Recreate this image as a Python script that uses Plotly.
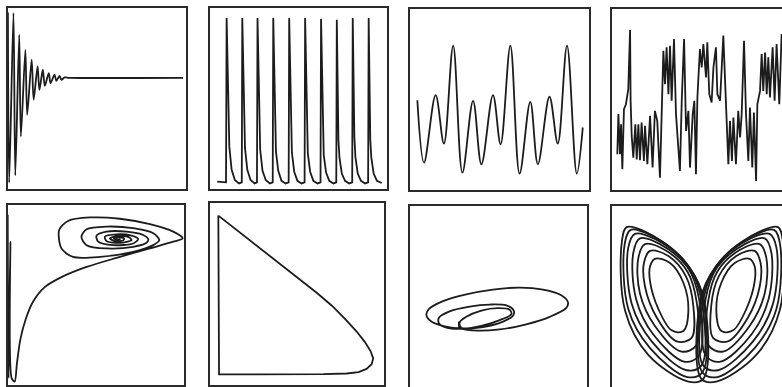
import plotly.graph_objects as go

# --- panel 1: damped oscillation (time series) ---
damped_t = [0.5, 1.2, 3.6, 4.6, 6.8, 7.7, 10.2, 11.2, 13.7, 14.8, 17.0, 18.0, 19.9, 21.0,
            23.2, 24.2, 26.4, 27.4, 29.2, 30.2, 32.0, 35.0, 97.8]
damped_v = [97.0, 4.0, 96.7, 8.0, 84.9, 29.2, 76.6, 41.1, 71.2, 49.3, 67.5, 54.7, 65.7, 56.9,
            63.9, 58.4, 63.0, 59.7, 62.4, 60.2, 61.5, 61.3, 61.3]

# --- panel 2: relaxation oscillation (spikes) ---
spike_t = [4.6, 9.5, 9.85, 10.75, 11.35, 12.65, 14.45, 16.75,
           18.3, 18.6, 19.5, 20.1, 21.4, 23.2, 25.5,
           26.8, 27.1, 28.0, 28.6, 29.9, 31.7, 34.0,
           35.6, 35.9, 36.8, 37.4, 38.7, 40.5, 42.8,
           44.5, 44.8, 45.7, 46.3, 47.6, 49.4, 51.7,
           53.4, 53.7, 54.6, 55.2, 56.5, 58.3, 60.6,
           62.3, 62.6, 63.5, 64.1, 65.4, 67.2, 69.5,
           71.1, 71.4, 72.3, 72.9, 74.2, 76.0, 78.3,
           80.0, 80.3, 81.2, 81.8, 83.1, 84.9, 87.2,
           88.9, 89.2, 90.1, 90.7, 92.0, 93.8, 96.5]
spike_v = [4.6, 4.2, 94.0, 46.5, 23.7, 11.0, 5.5, 3.6,
           4.2, 94.0, 45.6, 23.0, 11.0, 5.5, 3.6,
           4.2, 94.0, 42.9, 22.0, 10.5, 5.5, 3.6,
           4.2, 94.0, 38.3, 21.0, 10.5, 5.0, 3.6,
           4.2, 94.0, 37.4, 20.5, 10.0, 5.0, 3.6,
           4.2, 94.0, 35.6, 20.0, 10.0, 5.0, 3.6,
           4.2, 93.5, 31.9, 19.0, 9.5, 5.0, 3.6,
           4.2, 93.0, 27.4, 17.5, 9.0, 5.0, 3.6,
           4.2, 94.0, 29.2, 18.0, 9.0, 5.0, 3.6,
           4.2, 94.0, 27.4, 17.5, 9.0, 5.0, 3.8]

# --- panel 3: quasi-periodic signal ---
quasi_t = [4.6, 8.3, 14.7, 19.3, 24.4, 29.5, 35.4, 40.0, 46.4, 50.6, 56.0, 61.1,
           67.0, 71.2, 77.6, 82.2, 87.3, 92.7, 96.0]
quasi_v = [49.6, 15.5, 52.4, 25.9, 79.4, 10.0, 49.3, 14.6, 52.4, 25.5, 79.4, 9.5,
           48.7, 14.6, 51.5, 25.9, 79.4, 9.5, 34.7]

# --- panel 4: chaotic signal ---
chaos_t = [3.5, 4.1, 5.0, 5.6, 6.3, 7.2, 8.3, 9.6, 10.6, 10.9, 11.5, 12.4, 13.5, 14.3,
           15.2, 16.1, 17.0, 18.3, 18.9, 20.2, 21.7, 23.1, 24.4, 25.7, 27.2, 27.8, 28.7,
           29.1, 30.0, 30.9, 31.9, 32.8, 33.7, 35.0, 36.1, 38.3, 39.3, 40.6, 41.7, 43.0,
           43.9, 45.4, 46.3, 47.2, 48.0, 49.4, 50.4, 51.3, 52.8, 53.5, 54.6, 55.9, 56.9,
           58.3, 59.1, 60.6, 62.4, 63.9, 65.2, 66.1, 67.2, 68.0, 69.4, 70.7, 71.7, 72.6,
           73.9, 75.0, 76.3, 77.2, 78.5, 79.4, 80.6, 81.3, 82.8, 83.7, 84.6, 85.6, 86.5,
           87.4, 88.3, 89.8, 90.9, 92.0, 93.5, 94.8]
chaos_v = [20.1, 42.0, 20.1, 36.5, 11.9, 44.7, 47.4, 55.7, 88.0, 49.3, 30.1, 18.2, 36.5, 17.3,
           36.5, 16.8, 37.4, 16.4, 35.6, 14.6, 41.1, 12.8, 43.8, 38.3, 7.3, 34.7, 62.0,
           76.6, 58.4, 78.5, 52.9, 79.4, 49.3, 83.0, 42.0, 10.9, 49.3, 83.0, 32.8, 43.8,
           12.8, 42.0, 49.3, 9.1, 51.1, 77.6, 67.5, 80.3, 62.0, 81.2, 52.9, 48.4, 67.5,
           78.5, 52.9, 49.3, 84.9, 42.0, 14.6, 38.3, 16.4, 40.1, 14.6, 43.8, 29.2, 42.0,
           82.1, 42.0, 16.4, 45.6, 12.8, 42.9, 5.5, 47.4, 54.7, 74.8, 54.7, 75.7, 52.9,
           73.0, 51.1, 78.5, 49.3, 80.3, 47.4, 85.8]

# --- panel 5: spiral into a fixed point (phase plane) ---
spiral_x = [0.4, 0.9, 1.9, 2.6, 4.3, 5.6, 7.5, 10.5, 14.6, 21.2, 30.6, 44.7, 61.5, 80.3,
            93.4, 98.7, 93.4, 80.3, 63.4, 46.5, 34.3, 29.3, 30.6, 37.1, 52.2, 70.9, 82.2,
            85.6, 82.2, 70.9, 55.9, 44.7, 41.8, 44.7, 55.9, 70.9, 78.4, 79.4, 76.5, 67.2,
            55.9, 50.3, 51.2, 59.7, 70.9, 73.7, 70.0, 61.5, 55.0, 55.9, 63.4, 70.0, 68.1,
            61.5, 57.8, 60.6, 65.3, 65.7, 62.5, 60.0, 62.5, 63.8]
spiral_y = [94.1, 4.3, 79.3, 4.3, 2.4, 12.6, 25.6, 36.7, 46.3, 54.3, 59.8, 65.4, 70.4, 75.6,
            79.3, 81.1, 84.8, 88.9, 91.9, 92.6, 90.7, 85.7, 75.6, 70.9, 70.9, 73.7, 77.4,
            80.2, 83.9, 86.7, 87.6, 86.1, 82.0, 77.4, 75.6, 76.5, 78.7, 80.6, 83.0, 84.8,
            84.8, 82.6, 79.3, 77.4, 78.3, 80.7, 82.6, 83.3, 82.0, 79.6, 78.7, 80.2, 81.9,
            82.4, 81.1, 79.6, 80.0, 81.1, 81.7, 80.9, 80.4, 80.9]

# --- panel 6: limit cycle (phase plane) ---
cycle_x = [5.3, 40.0, 61.2, 70.0, 77.0, 83.9, 88.5, 91.8, 93.3, 92.4, 89.5, 85.0, 78.2,
           65.0, 5.7, 5.3]
cycle_y = [92.6, 66.5, 50.7, 43.5, 36.8, 29.6, 24.0, 19.0, 15.0, 11.8, 9.3, 7.6, 6.8,
           6.4, 6.3, 92.6]

# --- panel 7: torus trajectory (phase plane) ---
torus_x = [27.9, 28.3, 35.8, 50.7, 65.5, 78.6, 87.9, 88.8, 85.1, 74.9, 61.8, 46.9, 32.0,
           19.0, 11.2, 9.7, 12.5, 19.9, 30.2, 41.3, 52.5, 58.1, 58.5, 54.4, 45.1, 33.9,
           22.7, 16.8, 16.8, 20.9, 30.2, 40.4, 50.7, 57.2, 56.2, 49.7, 40.4, 32.0, 28.3,
           29.2, 34.8]
torus_y = [36.3, 33.0, 31.5, 32.0, 34.8, 38.9, 43.8, 46.9, 50.7, 53.8, 54.9, 53.8, 51.2,
           47.5, 43.2, 40.0, 36.3, 33.7, 32.6, 33.3, 36.3, 39.5, 42.3, 45.1, 45.6, 44.5,
           41.9, 38.5, 35.2, 33.0, 32.4, 33.9, 37.1, 40.4, 42.8, 43.6, 42.3, 38.9, 35.8,
           33.0, 32.4]

# --- panel 8: strange attractor, nested loops of the two wings (inner -> outer) ---
left_wing_x = [
    [24.4, 32.8, 40.2, 43.0, 40.2, 33.7, 26.3, 21.7, 21.7, 24.4],
    [21.7, 31.9, 41.7, 45.7, 44.8, 36.5, 25.4, 18.9, 18.3, 21.7],
    [18.9, 30.0, 42.4, 47.6, 47.6, 39.3, 24.4, 16.1, 15.2, 18.9],
    [16.1, 27.2, 42.4, 48.9, 49.1, 41.1, 23.5, 13.9, 12.4, 16.1],
    [13.3, 24.4, 41.7, 49.8, 50.4, 42.0, 22.6, 11.5, 9.6, 13.3],
    [10.9, 21.7, 40.2, 50.4, 50.9, 42.4, 21.7, 9.6, 7.6, 10.9],
    [8.7, 18.9, 38.3, 50.7, 51.3, 43.0, 20.7, 7.8, 6.1, 8.7],
]
left_wing_y = [
    [70.6, 68.3, 57.5, 42.3, 31.1, 31.5, 43.2, 58.1, 66.5, 70.6],
    [74.9, 72.1, 60.9, 45.1, 27.4, 25.5, 38.5, 55.3, 68.3, 74.9],
    [78.6, 75.4, 63.7, 46.9, 23.6, 19.9, 33.9, 51.6, 71.1, 78.6],
    [81.8, 78.6, 66.1, 48.8, 18.1, 14.3, 29.2, 48.8, 73.9, 81.8],
    [84.2, 81.4, 68.3, 50.1, 12.5, 9.7, 25.5, 46.0, 76.7, 84.2],
    [86.4, 83.6, 70.2, 51.2, 8.8, 6.0, 21.8, 43.2, 78.6, 86.4],
    [87.9, 85.5, 72.1, 52.0, 5.0, 3.5, 18.1, 42.3, 80.4, 87.9],
]
right_wing_x = [
    [77.0, 68.7, 61.3, 58.5, 61.3, 67.8, 75.2, 79.8, 79.8, 77.0],
    [79.8, 69.6, 59.8, 55.7, 56.7, 65.0, 76.1, 82.6, 83.1, 79.8],
    [82.6, 71.5, 59.1, 53.9, 53.9, 62.2, 77.0, 85.4, 86.3, 82.6],
    [85.4, 74.3, 59.1, 52.6, 52.4, 60.4, 78.0, 87.6, 89.1, 85.4],
    [88.1, 77.0, 59.8, 51.7, 51.1, 59.4, 78.9, 90.0, 91.9, 88.1],
    [90.6, 79.8, 61.3, 51.1, 50.6, 59.1, 79.8, 91.9, 93.9, 90.6],
    [92.8, 82.6, 63.1, 50.7, 50.2, 58.5, 80.7, 93.7, 95.4, 92.8],
]
right_wing_y = [
    [70.6, 68.3, 57.5, 42.3, 31.1, 31.5, 43.2, 58.1, 66.5, 70.6],
    [74.9, 72.1, 60.9, 45.1, 27.4, 25.5, 38.5, 55.3, 68.3, 74.9],
    [78.6, 75.4, 63.7, 46.9, 23.6, 19.9, 33.9, 51.6, 71.1, 78.6],
    [81.8, 78.6, 66.1, 48.8, 18.1, 14.3, 29.2, 48.8, 73.9, 81.8],
    [84.2, 81.4, 68.3, 50.1, 12.5, 9.7, 25.5, 46.0, 76.7, 84.2],
    [86.4, 83.6, 70.2, 51.2, 8.8, 6.0, 21.8, 43.2, 78.6, 86.4],
    [87.9, 85.5, 72.1, 52.0, 5.0, 3.5, 18.1, 42.3, 80.4, 87.9],
]

boxes = [  # panel frames in pixels: x0, x1, y0 (top), y1 (bottom)
    (7, 187, 7, 190), (209, 388, 7, 190), (409, 590, 8, 191), (611, 791, 8, 191),
    (7, 185, 204, 386), (209, 385, 202, 386), (409, 588, 205, 388), (611, 791, 205, 388),
]
W, H = 782, 387

fig = go.Figure()
ink = "#1c1c1c"

panels = [
    [(damped_t, damped_v, "spline", 0.8)],
    [(spike_t, spike_v, "linear", None)],
    [(quasi_t, quasi_v, "spline", 1.0)],
    [(chaos_t, chaos_v, "linear", None)],
    [(spiral_x, spiral_y, "spline", 0.8)],
    [(cycle_x, cycle_y, "linear", None)],
    [(torus_x, torus_y, "spline", 0.9)],
    [(lx, ly, "spline", 1.0) for lx, ly in zip(left_wing_x, left_wing_y)]
    + [(rx, ry, "spline", 1.0) for rx, ry in zip(right_wing_x, right_wing_y)],
]

for i, (box, curves) in enumerate(zip(boxes, panels)):
    n = i + 1
    x0, x1, y0, y1 = box
    dx0 = x0 / W
    dx1 = min(x1 / W, 1.0)
    dy0 = max(1 - y1 / H, 0.0)
    dy1 = 1 - y0 / H
    xmax = 100 * (min(x1, W) - x0) / (x1 - x0)
    ymin = 100 * (1 - (H * (1 - dy0) - y0) / (y1 - y0))
    for cx, cy, shape, smooth in curves:
        fig.add_trace(go.Scatter(
            x=cx, y=cy, mode="lines", xaxis=f"x{n}", yaxis=f"y{n}",
            line=dict(color=ink, width=1.8, shape=shape, smoothing=smooth),
            showlegend=False, hoverinfo="skip"))
    ax = dict(visible=False, fixedrange=True)
    fig.layout[f"xaxis{n}"] = go.layout.XAxis(domain=[dx0, dx1], range=[0, xmax], anchor=f"y{n}", **ax)
    fig.layout[f"yaxis{n}"] = go.layout.YAxis(domain=[dy0, dy1], range=[ymin, 100], anchor=f"x{n}", **ax)
    fig.add_shape(type="rect", xref="paper", yref="paper",
                  x0=x0 / W, x1=x1 / W, y0=1 - y1 / H, y1=1 - y0 / H,
                  line=dict(color="#2b2b2b", width=2), layer="above")

fig.update_layout(width=W, height=H, margin=dict(l=0, r=0, t=0, b=0),
                  paper_bgcolor="white", plot_bgcolor="white")
# the page's default body margin would push the figure 8px off; drop it
fig.write_html("out.html", config={"displayModeBar": False},
               post_script="document.body.style.margin='0';")
